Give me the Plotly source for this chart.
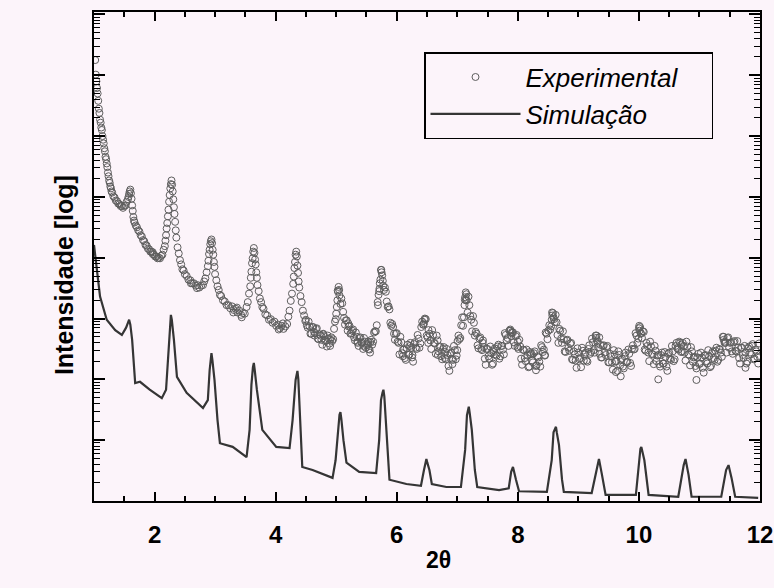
import plotly.graph_objects as go

# ---------------- data (2theta in degrees, log10 of intensity) ----------------
exp_x = [
    1.02, 1.03, 1.05, 1.06, 1.07, 1.08, 1.09, 1.10, 1.11, 1.12,
    1.13, 1.14, 1.15, 1.16, 1.17, 1.18, 1.19, 1.20, 1.21, 1.22,
    1.23, 1.24, 1.25, 1.26, 1.27, 1.28, 1.29, 1.30, 1.32, 1.34,
    1.36, 1.38, 1.40, 1.42, 1.44, 1.46, 1.48, 1.50, 1.52, 1.54,
    1.56, 1.57, 1.58, 1.59, 1.60, 1.61, 1.62, 1.63, 1.64, 1.65,
    1.66, 1.67, 1.69, 1.71, 1.73, 1.75, 1.77, 1.79, 1.81, 1.83,
    1.85, 1.87, 1.89, 1.91, 1.93, 1.95, 1.97, 1.99, 2.01, 2.03,
    2.05, 2.07, 2.09, 2.11, 2.13, 2.15, 2.17, 2.18, 2.19, 2.20,
    2.21, 2.22, 2.23, 2.24, 2.25, 2.26, 2.27, 2.28, 2.29, 2.30,
    2.31, 2.32, 2.33, 2.34, 2.35, 2.36, 2.38, 2.40, 2.42, 2.44,
    2.46, 2.48, 2.50, 2.53, 2.56, 2.59, 2.62, 2.65, 2.68, 2.71,
    2.74, 2.77, 2.80, 2.82, 2.84, 2.86, 2.88, 2.89, 2.90, 2.91,
    2.92, 2.93, 2.94, 2.95, 2.96, 2.97, 2.98, 2.99, 3.00, 3.02,
    3.04, 3.06, 3.08, 3.10, 3.13, 3.16, 3.19, 3.22, 3.25, 3.28,
    3.31, 3.34, 3.37, 3.40, 3.43, 3.46, 3.49, 3.52, 3.54, 3.56,
    3.58, 3.59, 3.60, 3.61, 3.62, 3.63, 3.64, 3.65, 3.66, 3.67,
    3.68, 3.69, 3.70, 3.72, 3.74, 3.76, 3.78, 3.80, 3.83, 3.86,
    3.89, 3.92, 3.95, 3.98, 4.01, 4.04, 4.07, 4.10, 4.13, 4.16,
    4.19, 4.21, 4.23, 4.25, 4.27, 4.29, 4.30, 4.31, 4.32, 4.33,
    4.34, 4.35, 4.36, 4.37, 4.38, 4.39, 4.41, 4.43, 4.45, 4.47,
    4.49, 3.30, 3.36, 3.44, 4.05, 4.12, 2.60, 2.70, 1.97, 1.04,
    4.50, 4.53, 4.56, 4.59, 4.62, 4.65, 4.68, 4.71, 4.74, 4.77,
    4.80, 4.83, 4.86, 4.89, 4.92, 4.95, 4.98, 5.01, 5.04, 5.07,
    5.10, 5.13, 5.16, 5.19, 5.22, 5.25, 5.28, 5.31, 5.34, 5.37,
    5.40, 5.43, 5.46, 5.49, 5.52, 5.55, 5.58, 5.61, 5.64, 5.67,
    5.70, 5.73, 5.76, 5.79, 5.82, 5.85, 5.88, 5.91, 5.94, 5.97,
    5.03, 5.05, 5.02, 5.00, 5.72, 5.74, 5.75, 5.71, 5.69, 5.77,
    4.64, 4.79, 4.90, 5.20, 5.35, 5.45, 5.53, 5.56,
    6.00, 6.03, 6.06, 6.09, 6.12, 6.15, 6.18, 6.21, 6.24, 6.27,
    6.30, 6.33, 6.36, 6.39, 6.42, 6.45, 6.48, 6.51, 6.54, 6.57,
    6.60, 6.63, 6.66, 6.69, 6.72, 6.75, 6.78, 6.81, 6.84, 6.87,
    6.90, 6.93, 6.96, 6.99, 7.02, 7.05, 7.08, 7.11, 7.14, 7.17,
    7.20, 7.23, 7.26, 7.29, 7.32, 7.35, 7.38, 7.41, 7.44, 7.47,
    6.46, 6.44, 7.13, 7.15, 7.12, 7.14, 6.10, 6.22, 6.52, 6.68,
    6.80, 6.92, 7.00, 7.42, 6.26,
    7.50, 7.53, 7.56, 7.59, 7.62, 7.65, 7.68, 7.71, 7.74, 7.77,
    7.80, 7.83, 7.86, 7.89, 7.92, 7.95, 7.98, 8.01, 8.04, 8.07,
    8.10, 8.13, 8.16, 8.19, 8.22, 8.25, 8.28, 8.31, 8.34, 8.37,
    8.40, 8.43, 8.46, 8.49, 8.52, 8.55, 8.58, 8.61, 8.64, 8.67,
    8.70, 8.73, 8.76, 8.79, 8.82, 8.85, 8.88, 8.91, 8.94, 8.97,
    8.57, 8.59, 8.56, 7.88, 7.90, 8.00, 8.20, 8.30, 8.45, 7.60,
    9.00, 9.03, 9.06, 9.09, 9.12, 9.15, 9.18, 9.21, 9.24, 9.27,
    9.30, 9.33, 9.36, 9.39, 9.42, 9.45, 9.48, 9.51, 9.54, 9.57,
    9.60, 9.63, 9.66, 9.69, 9.72, 9.75, 9.78, 9.81, 9.84, 9.87,
    9.90, 9.93, 9.96, 9.99, 10.02, 10.05, 10.08, 10.11, 10.14, 10.17,
    10.20, 10.23, 10.26, 10.29, 10.32, 10.35, 10.38, 10.41, 10.44, 10.47,
    9.29, 9.31, 10.00, 10.01, 10.03, 9.70, 10.32, 9.62, 9.35,
    10.50, 10.53, 10.56, 10.59, 10.62, 10.65, 10.68, 10.71, 10.74, 10.77,
    10.80, 10.83, 10.86, 10.89, 10.92, 10.95, 10.98, 11.01, 11.04, 11.07,
    11.10, 11.13, 11.16, 11.19, 11.22, 11.25, 11.28, 11.31, 11.34, 11.37,
    11.40, 11.43, 11.46, 11.49, 11.52, 11.55, 11.58, 11.61, 11.64, 11.67,
    11.70, 11.73, 11.76, 11.79, 11.82, 11.85, 11.88, 11.91, 11.94, 11.97,
    10.95, 10.70, 11.40, 11.42, 11.76,
    4.515, 4.545, 4.575, 4.605, 4.635, 4.665, 4.695, 4.725, 4.755, 4.785,
    4.815, 4.845, 4.875, 4.905, 4.935, 4.965, 4.995, 5.025, 5.055, 5.085,
    5.115, 5.145, 5.175, 5.205, 5.235, 5.265, 5.295, 5.325, 5.355, 5.385,
    5.415, 5.445, 5.475, 5.505, 5.535, 5.565, 5.595, 5.625, 5.655, 5.685,
    5.715, 5.745, 5.775, 5.805, 5.835, 5.865, 5.895, 5.925, 5.955, 5.985,
    6.015, 6.045, 6.075, 6.105, 6.135, 6.165, 6.195, 6.225, 6.255, 6.285,
    6.315, 6.345, 6.375, 6.405, 6.435, 6.465, 6.495, 6.525, 6.555, 6.585,
    6.615, 6.645, 6.675, 6.705, 6.735, 6.765, 6.795, 6.825, 6.855, 6.885,
    6.915, 6.945, 6.975, 7.005, 7.035, 7.065, 7.095, 7.125, 7.155, 7.185,
    7.215, 7.245, 7.275, 7.305, 7.335, 7.365, 7.395, 7.425, 7.455, 7.485,
    7.515, 7.545, 7.575, 7.605, 7.635, 7.665, 7.695, 7.725, 7.755, 7.785,
    7.815, 7.845, 7.875, 7.905, 7.935, 7.965, 7.995, 8.025, 8.055, 8.085,
    8.115, 8.145, 8.175, 8.205, 8.235, 8.265, 8.295, 8.325, 8.355, 8.385,
    8.415, 8.445, 8.475, 8.505, 8.535, 8.565, 8.595, 8.625, 8.655, 8.685,
    8.715, 8.745, 8.775, 8.805, 8.835, 8.865, 8.895, 8.925, 8.955, 8.985,
    9.015, 9.045, 9.075, 9.105, 9.135, 9.165, 9.195, 9.225, 9.255, 9.285,
    9.315, 9.345, 9.375, 9.405, 9.435, 9.465, 9.495, 9.525, 9.555, 9.585,
    9.615, 9.645, 9.675, 9.705, 9.735, 9.765, 9.795, 9.825, 9.855, 9.885,
    9.915, 9.945, 9.975, 10.005, 10.035, 10.065, 10.095, 10.125, 10.155, 10.185,
    10.215, 10.245, 10.275, 10.305, 10.335, 10.365, 10.395, 10.425, 10.455, 10.485,
    10.515, 10.545, 10.575, 10.605, 10.635, 10.665, 10.695, 10.725, 10.755, 10.785,
    10.815, 10.845, 10.875, 10.905, 10.935, 10.965, 10.995, 11.025, 11.055, 11.085,
    11.115, 11.145, 11.175, 11.205, 11.235, 11.265, 11.295, 11.325, 11.355, 11.385,
    11.415, 11.445, 11.475, 11.505, 11.535, 11.565, 11.595, 11.625, 11.655, 11.685,
    11.715, 11.745, 11.775, 11.805, 11.835, 11.865, 11.895, 11.925, 11.955, 11.985,
]
exp_logI = [
    7.25, 7.01, 6.79, 6.70, 6.58, 6.45, 6.38, 6.27, 6.22, 6.14,
    6.10, 6.00, 5.94, 5.88, 5.80, 5.75, 5.66, 5.62, 5.55, 5.49,
    5.40, 5.34, 5.27, 5.23, 5.17, 5.14, 5.09, 5.07, 5.01, 4.99,
    4.94, 4.93, 4.89, 4.88, 4.85, 4.85, 4.82, 4.85, 4.86, 4.92,
    4.96, 5.00, 5.05, 5.09, 5.12, 5.06, 4.97, 4.86, 4.77, 4.67,
    4.61, 4.58, 4.53, 4.50, 4.45, 4.43, 4.37, 4.35, 4.29, 4.27,
    4.21, 4.20, 4.15, 4.14, 4.10, 4.10, 4.06, 4.05, 4.02, 4.02,
    3.99, 4.00, 3.99, 4.03, 4.05, 4.13, 4.19, 4.28, 4.37, 4.48,
    4.57, 4.68, 4.79, 4.92, 5.03, 5.14, 5.21, 5.27, 5.20, 5.09,
    4.96, 4.83, 4.72, 4.59, 4.45, 4.33, 4.17, 4.07, 3.96, 3.89,
    3.81, 3.79, 3.73, 3.70, 3.64, 3.63, 3.58, 3.58, 3.54, 3.55,
    3.51, 3.54, 3.55, 3.61, 3.66, 3.76, 3.86, 3.95, 4.06, 4.13,
    4.22, 4.27, 4.30, 4.24, 4.13, 4.05, 3.93, 3.85, 3.73, 3.63,
    3.53, 3.47, 3.39, 3.37, 3.30, 3.28, 3.22, 3.22, 3.17, 3.20,
    3.14, 3.16, 3.10, 3.13, 3.06, 3.09, 3.08, 3.19, 3.27, 3.41,
    3.53, 3.67, 3.77, 3.91, 3.99, 4.10, 4.16, 4.08, 3.97, 3.89,
    3.76, 3.67, 3.55, 3.45, 3.33, 3.27, 3.19, 3.16, 3.07, 3.05,
    2.98, 2.99, 2.93, 2.95, 2.88, 2.90, 2.84, 2.88, 2.83, 2.87,
    2.91, 3.03, 3.13, 3.29, 3.41, 3.57, 3.69, 3.83, 3.93, 4.05,
    4.10, 4.02, 3.87, 3.75, 3.61, 3.51, 3.37, 3.27, 3.13, 3.05,
    2.96, 3.10, 3.18, 3.02, 2.82, 2.92, 3.58, 3.50, 4.09, 6.90,
    2.98, 2.85, 2.87, 2.75, 2.86, 2.76, 2.84, 2.66, 2.72, 2.57,
    2.71, 2.64, 2.72, 2.59, 2.69, 2.66, 2.95, 3.19, 3.52, 3.24,
    3.25, 3.01, 2.97, 2.80, 2.88, 2.76, 2.82, 2.64, 2.70, 2.55,
    2.69, 2.60, 2.68, 2.52, 2.58, 2.49, 2.65, 2.62, 2.79, 2.89,
    3.39, 3.64, 3.71, 3.47, 3.44, 3.19, 3.15, 2.88, 2.86, 2.65,
    3.44, 3.47, 3.30, 3.08, 3.58, 3.80, 3.76, 3.45, 3.22, 3.62,
    2.72, 2.74, 2.55, 2.92, 2.62, 2.55, 2.62, 2.44,
    2.76, 2.60, 2.70, 2.43, 2.49, 2.32, 2.57, 2.41, 2.52, 2.29,
    2.61, 2.50, 2.67, 2.59, 2.95, 2.92, 2.99, 2.69, 2.75, 2.50,
    2.73, 2.59, 2.72, 2.46, 2.54, 2.33, 2.53, 2.33, 2.40, 2.14,
    2.44, 2.32, 2.48, 2.39, 2.72, 2.68, 3.02, 3.02, 3.43, 3.10,
    3.22, 2.98, 3.04, 2.72, 2.75, 2.51, 2.69, 2.48, 2.53, 2.24,
    2.98, 2.90, 3.35, 3.40, 3.22, 3.30, 2.38, 2.55, 2.60, 2.40,
    2.45, 2.25, 2.48, 2.60, 2.40,
    2.50, 2.34, 2.43, 2.26, 2.51, 2.39, 2.57, 2.38, 2.55, 2.41,
    2.73, 2.68, 2.80, 2.71, 2.77, 2.55, 2.73, 2.50, 2.54, 2.24,
    2.48, 2.30, 2.39, 2.21, 2.43, 2.28, 2.46, 2.23, 2.36, 2.21,
    2.53, 2.49, 2.77, 2.66, 2.89, 2.87, 3.09, 2.94, 2.94, 2.60,
    2.80, 2.60, 2.66, 2.45, 2.65, 2.47, 2.60, 2.32, 2.41, 2.19,
    3.05, 3.02, 2.98, 2.80, 2.76, 2.62, 2.45, 2.15, 2.40, 2.45,
    2.44, 2.35, 2.52, 2.31, 2.44, 2.29, 2.56, 2.45, 2.61, 2.44,
    2.72, 2.52, 2.57, 2.36, 2.56, 2.40, 2.55, 2.28, 2.38, 2.16,
    2.41, 2.30, 2.46, 2.23, 2.34, 2.18, 2.44, 2.29, 2.42, 2.22,
    2.56, 2.50, 2.72, 2.67, 2.86, 2.68, 2.78, 2.47, 2.55, 2.30,
    2.54, 2.41, 2.55, 2.30, 2.40, 2.21, 2.44, 2.26, 2.37, 2.14,
    2.68, 2.64, 2.84, 2.80, 2.76, 2.05, 2.00, 2.12, 2.42,
    2.44, 2.32, 2.46, 2.33, 2.60, 2.49, 2.60, 2.46, 2.55, 2.31,
    2.54, 2.40, 2.53, 2.29, 2.37, 2.18, 2.42, 2.26, 2.36, 2.11,
    2.40, 2.26, 2.38, 2.22, 2.46, 2.32, 2.52, 2.32, 2.49, 2.37,
    2.70, 2.60, 2.68, 2.52, 2.61, 2.42, 2.63, 2.46, 2.52, 2.26,
    2.52, 2.35, 2.44, 2.29, 2.54, 2.41, 2.58, 2.34, 2.46, 2.26,
    1.99, 2.57, 2.65, 2.62, 2.19,
    2.89, 2.95, 2.75, 2.86, 2.78, 2.83, 2.67, 2.74, 2.65, 2.75,
    2.63, 2.54, 2.67, 2.65, 2.63, 2.83, 2.99, 3.46, 3.38, 3.33,
    3.11, 2.90, 2.97, 2.87, 2.75, 2.80, 2.69, 2.77, 2.60, 2.68,
    2.61, 2.50, 2.62, 2.56, 2.50, 2.61, 2.57, 2.77, 2.79, 3.27,
    3.49, 3.80, 3.54, 3.51, 3.28, 3.20, 2.93, 2.91, 2.75, 2.75,
    2.62, 2.41, 2.61, 2.49, 2.35, 2.51, 2.40, 2.60, 2.36, 2.58,
    2.52, 2.73, 2.52, 2.86, 2.90, 3.00, 2.72, 2.81, 2.64, 2.81,
    2.60, 2.42, 2.64, 2.53, 2.38, 2.50, 2.35, 2.50, 2.22, 2.42,
    2.34, 2.55, 2.33, 2.63, 2.66, 2.89, 2.88, 3.31, 3.30, 3.36,
    3.04, 2.79, 2.93, 2.78, 2.56, 2.67, 2.50, 2.64, 2.34, 2.50,
    2.38, 2.54, 2.24, 2.48, 2.41, 2.54, 2.34, 2.55, 2.49, 2.76,
    2.64, 2.55, 2.82, 2.78, 2.61, 2.71, 2.53, 2.65, 2.34, 2.49,
    2.35, 2.49, 2.20, 2.41, 2.31, 2.43, 2.22, 2.38, 2.29, 2.56,
    2.45, 2.39, 2.75, 2.80, 2.82, 3.10, 2.99, 3.06, 2.73, 2.83,
    2.67, 2.79, 2.46, 2.64, 2.52, 2.59, 2.33, 2.46, 2.31, 2.51,
    2.33, 2.20, 2.47, 2.41, 2.31, 2.50, 2.42, 2.67, 2.48, 2.72,
    2.60, 2.69, 2.36, 2.55, 2.44, 2.53, 2.28, 2.42, 2.28, 2.48,
    2.29, 2.14, 2.40, 2.32, 2.21, 2.38, 2.28, 2.49, 2.27, 2.50,
    2.49, 2.76, 2.60, 2.88, 2.75, 2.79, 2.49, 2.60, 2.44, 2.62,
    2.42, 2.25, 2.47, 2.39, 2.25, 2.40, 2.26, 2.45, 2.21, 2.42,
    2.34, 2.55, 2.30, 2.55, 2.51, 2.62, 2.45, 2.60, 2.44, 2.62,
    2.41, 2.23, 2.46, 2.36, 2.22, 2.36, 2.25, 2.44, 2.19, 2.39,
    2.30, 2.48, 2.20, 2.43, 2.35, 2.47, 2.29, 2.50, 2.44, 2.70,
    2.60, 2.44, 2.69, 2.60, 2.46, 2.61, 2.47, 2.63, 2.35, 2.52,
    2.40, 2.55, 2.26, 2.51, 2.44, 2.55, 2.33, 2.49, 2.37, 2.59,
]

sim_x = [
    1.00, 1.05, 1.10, 1.21, 1.35, 1.46, 1.53, 1.56, 1.58, 1.60,
    1.63, 1.68, 1.76, 1.92, 2.12, 2.19, 2.24, 2.255, 2.27, 2.285,
    2.32, 2.37, 2.53, 2.80, 2.88, 2.91, 2.925, 2.94, 2.955, 2.99,
    3.04, 3.08, 3.29, 3.52, 3.57, 3.60, 3.625, 3.64, 3.655, 3.69,
    3.78, 4.01, 4.23, 4.28, 4.33, 4.345, 4.36, 4.375, 4.39, 4.44,
    4.61, 4.94, 4.99, 5.04, 5.055, 5.07, 5.085, 5.12, 5.17, 5.38,
    5.66, 5.71, 5.74, 5.765, 5.78, 5.795, 5.81, 5.88, 6.16, 6.40,
    6.45, 6.475, 6.49, 6.505, 6.54, 6.58, 6.82, 7.06, 7.13, 7.16,
    7.175, 7.19, 7.205, 7.24, 7.29, 7.33, 7.69, 7.85, 7.89, 7.92,
    7.97, 8.02, 8.48, 8.56, 8.59, 8.615, 8.63, 8.645, 8.68, 8.73,
    8.76, 9.22, 9.30, 9.34, 9.39, 9.45, 9.95, 10.01, 10.025, 10.04,
    10.055, 10.09, 10.16, 10.65, 10.74, 10.77, 10.82, 10.87, 11.36, 11.44,
    11.48, 11.53, 11.59, 11.97,
]
sim_logI = [
    4.21, 3.80, 3.36, 2.98, 2.81, 2.73, 2.85, 2.93, 2.98, 2.90,
    2.65, 1.94, 1.96, 1.83, 1.69, 1.83, 2.65, 2.98, 3.06, 2.98,
    2.65, 2.04, 1.78, 1.53, 1.66, 2.15, 2.36, 2.43, 2.32, 1.99,
    1.33, 0.95, 0.89, 0.72, 1.17, 1.91, 2.20, 2.27, 2.15, 1.83,
    1.17, 0.89, 0.87, 1.33, 1.99, 2.10, 2.14, 2.00, 1.66, 0.56,
    0.51, 0.38, 0.67, 1.33, 1.42, 1.46, 1.35, 1.00, 0.63, 0.48,
    0.46, 1.00, 1.66, 1.78, 1.83, 1.72, 1.50, 0.35, 0.28, 0.25,
    0.51, 0.66, 0.69, 0.63, 0.51, 0.28, 0.23, 0.23, 0.84, 1.41,
    1.51, 1.55, 1.45, 1.17, 0.51, 0.23, 0.18, 0.21, 0.48, 0.56,
    0.35, 0.16, 0.15, 0.67, 1.13, 1.20, 1.22, 1.12, 0.92, 0.35,
    0.15, 0.13, 0.51, 0.69, 0.43, 0.10, 0.10, 0.76, 0.86, 0.89,
    0.82, 0.67, 0.10, 0.07, 0.59, 0.69, 0.43, 0.07, 0.07, 0.51,
    0.59, 0.38, 0.07, 0.05,
]

series_names = ["Experimental", "Simulação"]
x_title = "2θ"
y_title = "Intensidade [log]"

# ---------------- figure ----------------
bg = "#fcf4fa"
exp_y = [10 ** v for v in exp_logI]
sim_y = [10 ** v for v in sim_logI]

y_range = [0, 8.04]
# log minor tick positions (2..9 within every decade of the range)
minor_ticks = [m * 10 ** d for d in range(0, 9) for m in range(2, 10)
               if m * 10 ** d <= 10 ** y_range[1]]

fig = go.Figure()
fig.add_trace(go.Scatter(
    x=exp_x, y=exp_y, mode="markers", name=series_names[0] + "\u00a0" * 4,
    marker=dict(symbol="circle-open", size=7, color="#5e5e5e",
                line=dict(width=1, color="#5e5e5e")),
))
fig.add_trace(go.Scatter(
    x=sim_x, y=sim_y, mode="lines", name=series_names[1], yaxis="y2",
    line=dict(color="#353535", width=2.2),
))

tick_font = dict(family="Liberation Sans, Arial, sans-serif", size=24,
                 color="black", weight="bold")

fig.update_layout(
    width=774, height=588,
    margin=dict(l=94, r=14, t=12, b=87),
    paper_bgcolor=bg, plot_bgcolor=bg,
    showlegend=True,
    legend=dict(
        x=0.4955, y=0.918, xanchor="left", yanchor="top",
        bgcolor=bg, bordercolor="black", borderwidth=1.5,
        font=dict(family="Liberation Sans, Arial, sans-serif",
                  size=26, style="italic", color="black"),
        itemwidth=90, tracegroupgap=0,
    ),
    xaxis=dict(
        range=[1, 12], tick0=0, dtick=2, automargin=False,
        ticks="inside", ticklen=9, tickwidth=1.5, tickcolor="black",
        showline=True, linecolor="black", linewidth=2, mirror="ticks",
        showgrid=False, zeroline=False,
        tickfont=tick_font, ticklabelstandoff=11, ticklabeloverflow="allow",
        minor=dict(dtick=0.5, ticks="inside", ticklen=5, tickwidth=1.5,
                   tickcolor="black", showgrid=False),
    ),
    yaxis=dict(
        type="log", range=y_range, dtick=1, automargin=False,
        ticks="inside", ticklen=11, tickwidth=1.5, tickcolor="black",
        showline=True, linecolor="black", linewidth=2, mirror="ticks",
        showgrid=False, zeroline=False, showticklabels=False,
    ),
    yaxis2=dict(
        type="log", range=y_range, overlaying="y", anchor="x", side="left",
        tickmode="array", tickvals=minor_ticks, automargin=False,
        ticks="inside", ticklen=6, tickwidth=1, tickcolor="black",
        showline=False, mirror="ticks", showgrid=False, zeroline=False,
        showticklabels=False,
    ),
    annotations=[
        dict(text=x_title, xref="paper", yref="paper", x=0.518, y=-0.12,
             xanchor="center", yanchor="middle", showarrow=False,
             font=dict(family="Liberation Sans, Arial, sans-serif", size=23,
                       color="black", weight="bold")),
        dict(text=y_title, xref="paper", yref="paper", x=-0.045, y=0.462,
             xanchor="center", yanchor="middle", showarrow=False, textangle=-90,
             font=dict(family="Liberation Sans, Arial, sans-serif", size=25,
                       color="black", weight="bold")),
    ],
)

fig.write_html("out.html")
